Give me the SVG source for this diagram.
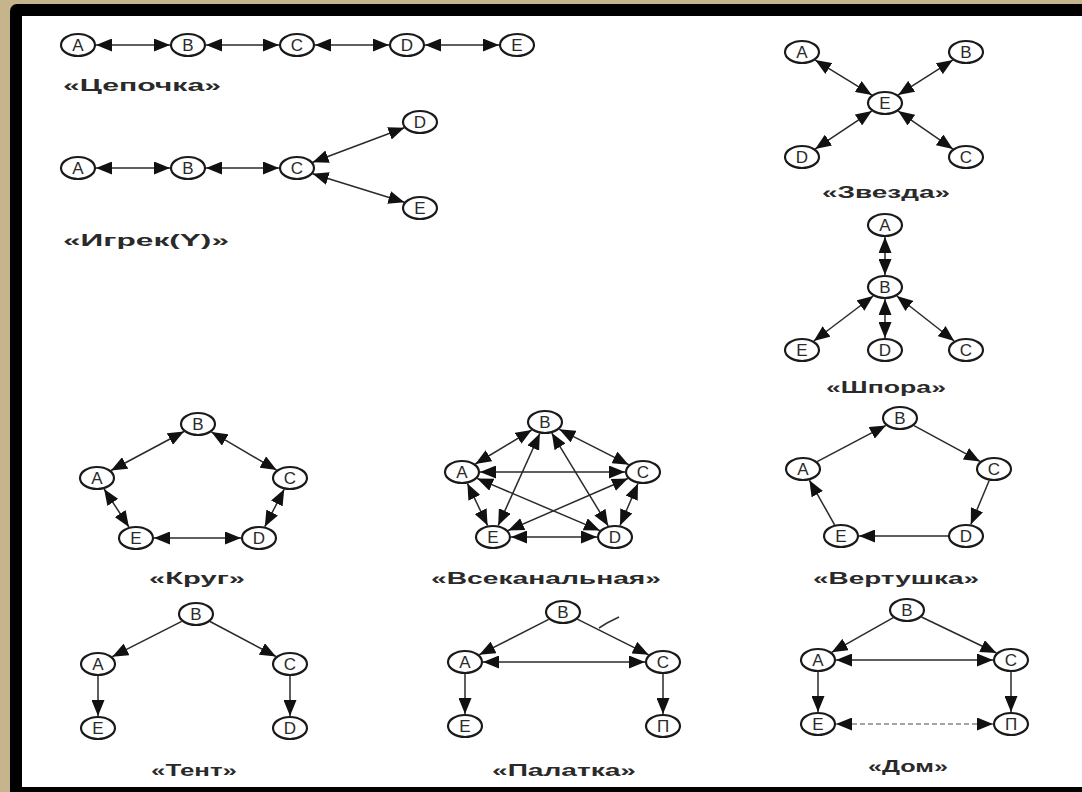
<svg xmlns="http://www.w3.org/2000/svg" width="1082" height="792" viewBox="0 0 1082 792">
<style>
.n ellipse{fill:#fff;stroke:#1a1a1a;stroke-width:2.2}
.n text{font-family:"Liberation Sans",Arial,sans-serif;font-size:17px;fill:#2a2a2a;text-anchor:middle}
.lbl{font-family:"Liberation Sans",Arial,sans-serif;font-size:17px;font-weight:bold;fill:#2a2a2a;text-anchor:middle}
#edges line{stroke:#2a2a2a;stroke-width:1.5}
.bi{marker-start:url(#ah);marker-end:url(#ah)}
.one{marker-end:url(#ah)}
.dash{stroke-dasharray:5 3;stroke:#888 !important}
</style>
<defs>
<marker id="ah" markerUnits="userSpaceOnUse" markerWidth="16" markerHeight="13" refX="16" refY="6.5" orient="auto-start-reverse">
<path d="M0,0 L16,6.5 L0,13 z" fill="#111"/>
</marker>
</defs>
<rect x="0" y="0" width="1082" height="792" fill="#c6b58c"/>
<rect x="10" y="4" width="1090" height="800" rx="7" fill="#000"/>
<rect x="22" y="16" width="1070" height="771" fill="#fff"/>

<g id="edges">
<!-- Chain -->
<line class="bi" x1="96" y1="45" x2="170" y2="45"/>
<line class="bi" x1="206" y1="45" x2="279" y2="45"/>
<line class="bi" x1="315" y1="45" x2="389" y2="45"/>
<line class="bi" x1="425" y1="45" x2="499" y2="45"/>
<!-- Y -->
<line class="bi" x1="96" y1="168" x2="170" y2="168"/>
<line class="bi" x1="206" y1="168" x2="279" y2="168"/>
<line class="bi" x1="312.6" y1="162.2" x2="404.4" y2="127.8"/>
<line class="bi" x1="312.6" y1="173.8" x2="404.4" y2="202.2"/>
<!-- Star -->
<line class="bi" x1="815.2" y1="60.1" x2="871.8" y2="94.9"/>
<line class="bi" x1="952.8" y1="60.1" x2="898.2" y2="94.9"/>
<line class="bi" x1="871.8" y1="111.1" x2="815.2" y2="148.9"/>
<line class="bi" x1="898.2" y1="111.1" x2="952.8" y2="148.9"/>
<!-- Spur -->
<line class="bi" x1="885" y1="237" x2="885" y2="275"/>
<line class="bi" x1="873.2" y1="296" x2="813.8" y2="341"/>
<line class="bi" x1="885" y1="299" x2="885" y2="338"/>
<line class="bi" x1="896.8" y1="296" x2="954.2" y2="341"/>
<!-- Circle -->
<line class="bi" x1="184" y1="431.5" x2="111" y2="470.5"/>
<line class="bi" x1="211.4" y1="431.9" x2="276.6" y2="470.1"/>
<line class="bi" x1="104.1" y1="489" x2="128.9" y2="527"/>
<line class="bi" x1="284.2" y1="489.3" x2="264.8" y2="526.7"/>
<line class="bi" x1="154" y1="538" x2="241" y2="538"/>
<!-- All-channel -->
<line class="bi" x1="531.7" y1="430" x2="475.3" y2="464"/>
<line class="bi" x1="559.3" y1="429.3" x2="628.7" y2="464.7"/>
<line class="bi" x1="480" y1="472" x2="625" y2="472"/>
<line class="bi" x1="467.4" y1="483.4" x2="487.6" y2="525.6"/>
<line class="bi" x1="638" y1="483.5" x2="620" y2="525.5"/>
<line class="bi" x1="511" y1="537" x2="597" y2="537"/>
<line class="bi" x1="539.8" y1="433.5" x2="498.2" y2="525.5"/>
<line class="bi" x1="551.8" y1="433.1" x2="608.2" y2="525.9"/>
<line class="bi" x1="477.1" y1="478.4" x2="599.9" y2="530.6"/>
<line class="bi" x1="627.9" y1="478.5" x2="508.1" y2="530.5"/>
<!-- Pinwheel -->
<line class="one" x1="817.1" y1="461.6" x2="885.9" y2="425.4"/>
<line class="one" x1="914" y1="425.6" x2="980" y2="461.4"/>
<line class="one" x1="989.2" y1="480.5" x2="970.8" y2="524.5"/>
<line class="one" x1="948" y1="536" x2="859" y2="536"/>
<line class="one" x1="834.6" y1="524.8" x2="809.4" y2="480.2"/>
<!-- Tent -->
<line class="one" x1="181.7" y1="621.3" x2="112.3" y2="656.7"/>
<line class="one" x1="210" y1="621.5" x2="276" y2="656.5"/>
<line class="one" x1="98" y1="676" x2="98" y2="716"/>
<line class="one" x1="290" y1="676" x2="290" y2="716"/>
<!-- Palatka -->
<line class="one" x1="548.7" y1="619.3" x2="479.3" y2="654.7"/>
<line class="one" x1="577.3" y1="619.2" x2="648.7" y2="654.8"/>
<line class="bi" x1="483" y1="662" x2="645" y2="662"/>
<line class="one" x1="465" y1="674" x2="465" y2="714"/>
<line class="one" x1="663" y1="674" x2="663" y2="714"/>
<path d="M599,628 L607,623 L619,617" fill="none" stroke="#333" stroke-width="1.5"/>
<!-- House -->
<line class="one" x1="893.3" y1="617.7" x2="831.7" y2="652.3"/>
<line class="one" x1="921.5" y1="617" x2="996.5" y2="653"/>
<line class="bi" x1="836" y1="660" x2="993" y2="660"/>
<line class="one" x1="818" y1="672" x2="818" y2="712"/>
<line class="one" x1="1011" y1="672" x2="1011" y2="712"/>
<line class="bi dash" x1="836" y1="724" x2="993" y2="724"/>
</g>

<!-- Chain nodes -->
<g id="chain-A" class="n"><ellipse cx="78" cy="45" rx="17" ry="11"/><text x="78" y="51">A</text></g>
<g id="chain-B" class="n"><ellipse cx="188" cy="45" rx="17" ry="11"/><text x="188" y="51">B</text></g>
<g id="chain-C" class="n"><ellipse cx="297" cy="45" rx="17" ry="11"/><text x="297" y="51">C</text></g>
<g id="chain-D" class="n"><ellipse cx="407" cy="45" rx="17" ry="11"/><text x="407" y="51">D</text></g>
<g id="chain-E" class="n"><ellipse cx="517" cy="45" rx="17" ry="11"/><text x="517" y="51">E</text></g>
<text class="lbl" x="142" y="91" textLength="158" lengthAdjust="spacingAndGlyphs">«Цепочка»</text>

<!-- Y nodes -->
<g id="y-A" class="n"><ellipse cx="78" cy="168" rx="17" ry="11"/><text x="78" y="174">A</text></g>
<g id="y-B" class="n"><ellipse cx="188" cy="168" rx="17" ry="11"/><text x="188" y="174">B</text></g>
<g id="y-C" class="n"><ellipse cx="297" cy="168" rx="17" ry="11"/><text x="297" y="174">C</text></g>
<g id="y-D" class="n"><ellipse cx="420" cy="122" rx="17" ry="11"/><text x="420" y="128">D</text></g>
<g id="y-E" class="n"><ellipse cx="420" cy="208" rx="17" ry="11"/><text x="420" y="214">E</text></g>
<text class="lbl" x="146" y="246" textLength="166" lengthAdjust="spacingAndGlyphs">«Игрек(Y)»</text>

<!-- Star -->
<g id="star-A" class="n"><ellipse cx="802" cy="52" rx="17" ry="11"/><text x="802" y="58">A</text></g>
<g id="star-B" class="n"><ellipse cx="966" cy="52" rx="17" ry="11"/><text x="966" y="58">B</text></g>
<g id="star-E" class="n"><ellipse cx="885" cy="103" rx="17" ry="11"/><text x="885" y="109">E</text></g>
<g id="star-D" class="n"><ellipse cx="802" cy="157" rx="17" ry="11"/><text x="802" y="163">D</text></g>
<g id="star-C" class="n"><ellipse cx="966" cy="157" rx="17" ry="11"/><text x="966" y="163">C</text></g>
<text class="lbl" x="886" y="198" textLength="128" lengthAdjust="spacingAndGlyphs">«Звезда»</text>

<!-- Spur -->
<g id="spur-A" class="n"><ellipse cx="885" cy="225" rx="17" ry="11"/><text x="885" y="231">A</text></g>
<g id="spur-B" class="n"><ellipse cx="885" cy="287" rx="17" ry="11"/><text x="885" y="293">B</text></g>
<g id="spur-E" class="n"><ellipse cx="802" cy="350" rx="17" ry="11"/><text x="802" y="356">E</text></g>
<g id="spur-D" class="n"><ellipse cx="885" cy="350" rx="17" ry="11"/><text x="885" y="356">D</text></g>
<g id="spur-C" class="n"><ellipse cx="966" cy="350" rx="17" ry="11"/><text x="966" y="356">C</text></g>
<text class="lbl" x="886" y="393" textLength="120" lengthAdjust="spacingAndGlyphs">«Шпора»</text>

<!-- Circle -->
<g id="circ-B" class="n"><ellipse cx="198" cy="424" rx="17" ry="11"/><text x="198" y="430">B</text></g>
<g id="circ-A" class="n"><ellipse cx="97" cy="478" rx="17" ry="11"/><text x="97" y="484">A</text></g>
<g id="circ-C" class="n"><ellipse cx="290" cy="478" rx="17" ry="11"/><text x="290" y="484">C</text></g>
<g id="circ-E" class="n"><ellipse cx="136" cy="538" rx="17" ry="11"/><text x="136" y="544">E</text></g>
<g id="circ-D" class="n"><ellipse cx="259" cy="538" rx="17" ry="11"/><text x="259" y="544">D</text></g>
<text class="lbl" x="197" y="584" textLength="96" lengthAdjust="spacingAndGlyphs">«Круг»</text>

<!-- All-channel -->
<g id="all-B" class="n"><ellipse cx="545" cy="422" rx="17" ry="11"/><text x="545" y="428">B</text></g>
<g id="all-A" class="n"><ellipse cx="462" cy="472" rx="17" ry="11"/><text x="462" y="478">A</text></g>
<g id="all-C" class="n"><ellipse cx="643" cy="472" rx="17" ry="11"/><text x="643" y="478">C</text></g>
<g id="all-E" class="n"><ellipse cx="493" cy="537" rx="17" ry="11"/><text x="493" y="543">E</text></g>
<g id="all-D" class="n"><ellipse cx="615" cy="537" rx="17" ry="11"/><text x="615" y="543">D</text></g>
<text class="lbl" x="546" y="584" textLength="230" lengthAdjust="spacingAndGlyphs">«Всеканальная»</text>

<!-- Pinwheel -->
<g id="pin-B" class="n"><ellipse cx="900" cy="418" rx="17" ry="11"/><text x="900" y="424">B</text></g>
<g id="pin-A" class="n"><ellipse cx="803" cy="469" rx="17" ry="11"/><text x="803" y="475">A</text></g>
<g id="pin-C" class="n"><ellipse cx="994" cy="469" rx="17" ry="11"/><text x="994" y="475">C</text></g>
<g id="pin-E" class="n"><ellipse cx="841" cy="536" rx="17" ry="11"/><text x="841" y="542">E</text></g>
<g id="pin-D" class="n"><ellipse cx="966" cy="536" rx="17" ry="11"/><text x="966" y="542">D</text></g>
<text class="lbl" x="896" y="584" textLength="166" lengthAdjust="spacingAndGlyphs">«Вертушка»</text>

<!-- Tent -->
<g id="tent-B" class="n"><ellipse cx="196" cy="614" rx="17" ry="11"/><text x="196" y="620">B</text></g>
<g id="tent-A" class="n"><ellipse cx="98" cy="664" rx="17" ry="11"/><text x="98" y="670">A</text></g>
<g id="tent-C" class="n"><ellipse cx="290" cy="664" rx="17" ry="11"/><text x="290" y="670">C</text></g>
<g id="tent-E" class="n"><ellipse cx="98" cy="728" rx="17" ry="11"/><text x="98" y="734">E</text></g>
<g id="tent-D" class="n"><ellipse cx="290" cy="728" rx="17" ry="11"/><text x="290" y="734">D</text></g>
<text class="lbl" x="194" y="776" textLength="86" lengthAdjust="spacingAndGlyphs">«Тент»</text>

<!-- Palatka -->
<g id="pal-B" class="n"><ellipse cx="563" cy="612" rx="17" ry="11"/><text x="563" y="618">B</text></g>
<g id="pal-A" class="n"><ellipse cx="465" cy="662" rx="17" ry="11"/><text x="465" y="668">A</text></g>
<g id="pal-C" class="n"><ellipse cx="663" cy="662" rx="17" ry="11"/><text x="663" y="668">C</text></g>
<g id="pal-E" class="n"><ellipse cx="465" cy="726" rx="17" ry="11"/><text x="465" y="732">E</text></g>
<g id="pal-D" class="n"><ellipse cx="663" cy="726" rx="17" ry="11"/><text x="663" y="732">П</text></g>
<text class="lbl" x="564" y="776" textLength="144" lengthAdjust="spacingAndGlyphs">«Палатка»</text>

<!-- House -->
<g id="dom-B" class="n"><ellipse cx="907" cy="610" rx="17" ry="11"/><text x="907" y="616">B</text></g>
<g id="dom-A" class="n"><ellipse cx="818" cy="660" rx="17" ry="11"/><text x="818" y="666">A</text></g>
<g id="dom-C" class="n"><ellipse cx="1011" cy="660" rx="17" ry="11"/><text x="1011" y="666">C</text></g>
<g id="dom-E" class="n"><ellipse cx="818" cy="724" rx="17" ry="11"/><text x="818" y="730">E</text></g>
<g id="dom-D" class="n"><ellipse cx="1011" cy="724" rx="17" ry="11"/><text x="1011" y="730">П</text></g>
<text class="lbl" x="908" y="772" textLength="80" lengthAdjust="spacingAndGlyphs">«Дом»</text>
</svg>
